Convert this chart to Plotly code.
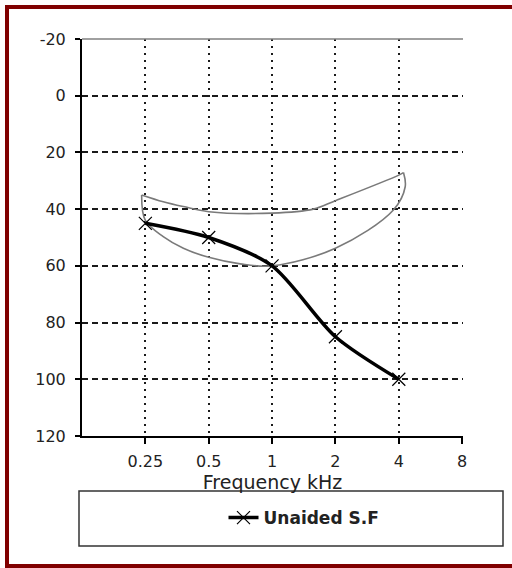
import plotly.graph_objects as go
import math

# ---- data ----
freq_ticks = [0.25, 0.5, 1, 2, 4, 8]
freq_labels = ["0.25", "0.5", "1", "2", "4", "8"]
db_ticks = [-20, 0, 20, 40, 60, 80, 100, 120]
db_labels = ["-20", "0", "20", "40", "60", "80", "100", "120"]

unaided_freq = [0.25, 0.5, 1, 2, 4]
unaided_db = [45, 50, 60, 85, 100]

banana_upper_freq = [0.240, 0.304, 0.379, 0.5, 1, 1.57, 2, 4, 4.21]
banana_upper_db = [35, 37.4, 39.1, 40.9, 41.4, 40.0, 37.0, 28, 27.1]
banana_lower_freq = [0.240, 0.25, 0.304, 0.379, 0.5, 0.705, 1, 2, 3.77, 4.29, 4.21]
banana_lower_db = [35, 44, 49.7, 53.8, 57, 59.3, 60, 53.8, 40.3, 32.1, 27.1]

fig = go.Figure()

for fx, fy in [(banana_upper_freq, banana_upper_db), (banana_lower_freq, banana_lower_db)]:
    fig.add_trace(go.Scatter(
        x=fx, y=fy, mode="lines",
        line=dict(color="#7a7a7a", width=1.6, shape="spline", smoothing=1),
        showlegend=False, hoverinfo="skip"))

fig.add_trace(go.Scatter(
    x=unaided_freq, y=unaided_db, mode="lines+markers", name="Unaided S.F",
    line=dict(color="black", width=3.5, shape="spline", smoothing=0.8),
    marker=dict(symbol="x-thin", size=13, line=dict(color="black", width=1.2), color="black"),
))

# shapes: outer frame (left/top/bottom), top border, legend box
L, R, T, B = 82, 463, 39, 436
W, H = R - L, B - T
def px(x):
    return (x - L) / W
def py(y):
    return (B - y) / H

frame = dict(color="#800000", width=4)
shapes = [
    dict(type="line", xref="paper", yref="paper", x0=px(5), x1=px(520), y0=py(7), y1=py(7), line=frame),
    dict(type="line", xref="paper", yref="paper", x0=px(5), x1=px(520), y0=py(566), y1=py(566), line=frame),
    dict(type="line", xref="paper", yref="paper", x0=px(7), x1=px(7), y0=py(5), y1=py(568), line=frame),
    dict(type="line", xref="paper", yref="paper", x0=0, x1=1, y0=1, y1=1,
         line=dict(color="#808080", width=1.5)),
    dict(type="rect", xref="paper", yref="paper", x0=px(79), x1=px(503), y0=py(546), y1=py(491),
         line=dict(color="#333333", width=1.5), fillcolor="white", layer="above"),
]

fig.update_layout(
    width=512, height=568,
    margin=dict(l=L, r=512 - R, t=T, b=568 - B),
    paper_bgcolor="white", plot_bgcolor="white",
    font=dict(family="DejaVu Sans", color="#222222"),
    shapes=shapes,
    showlegend=True,
    legend=dict(x=px(304), y=py(518), xanchor="center", yanchor="middle",
                bgcolor="rgba(0,0,0,0)", borderwidth=0,
                font=dict(size=17, family="DejaVu Sans", weight="bold", color="#222222")),
)

fig.update_xaxes(
    type="log", range=[math.log10(0.125), math.log10(8) + 0.004],
    tickvals=freq_ticks, ticktext=freq_labels,
    showgrid=True, gridcolor="#1a1a1a", gridwidth=2, griddash="2px,5px",
    showline=True, linecolor="black", linewidth=2,
    ticks="outside", ticklen=6, tickwidth=2, tickcolor="black",
    tickfont=dict(size=16, family="DejaVu Sans", color="#222222"),
    ticklabelstandoff=4,
    title=dict(text="Frequency kHz", font=dict(size=19, family="DejaVu Sans", color="#222222"), standoff=4),
    zeroline=False,
)
fig.update_yaxes(
    range=[120, -20], tickvals=db_ticks, ticktext=db_labels,
    showgrid=True, gridcolor="#1a1a1a", gridwidth=1.5, griddash="6px,4px",
    showline=True, linecolor="black", linewidth=2,
    ticks="outside", ticklen=5, tickwidth=2, tickcolor="black",
    tickfont=dict(size=16, family="DejaVu Sans", color="#222222"),
    ticklabelstandoff=6,
    zeroline=False,
)

fig.write_html("out.html",
               config={"displayModeBar": False},
               post_script="document.body.style.margin='0';document.body.style.overflow='hidden';")
